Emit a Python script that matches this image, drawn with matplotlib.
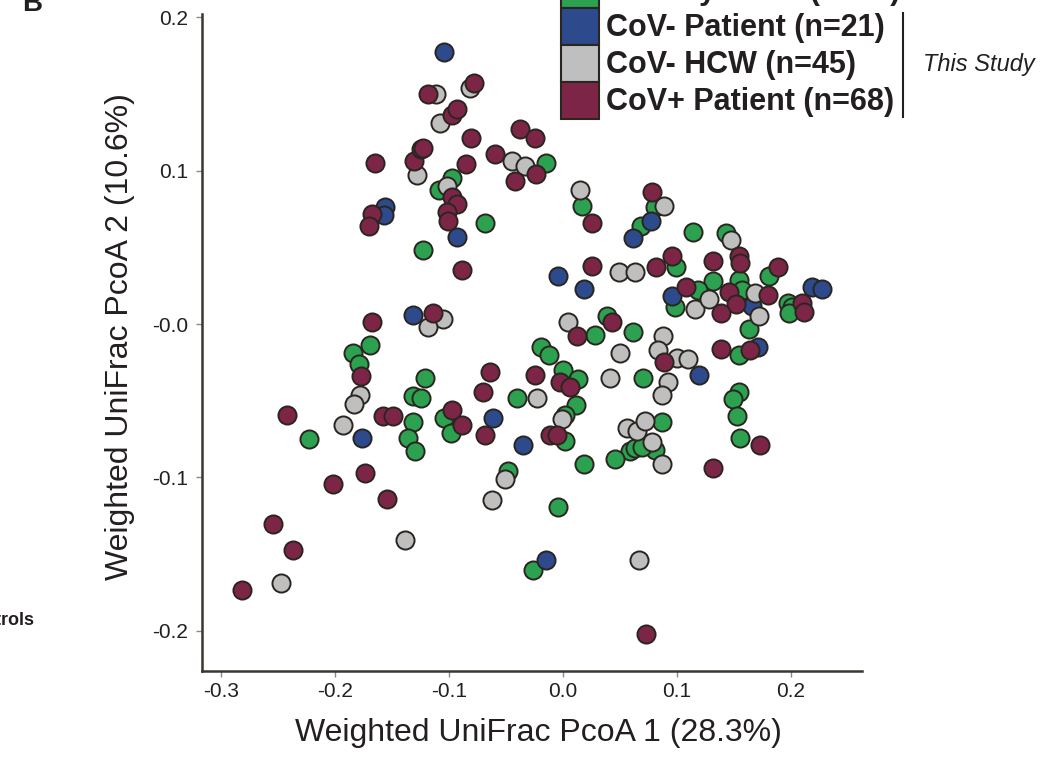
# PCoA scatter (weighted UniFrac), panel B

import matplotlib
matplotlib.use('Agg')
import matplotlib.pyplot as plt
import matplotlib.font_manager as fm
from matplotlib.patches import Rectangle
from matplotlib.lines import Line2D

# PCoA coordinates
healthy_x = [-0.097, -0.109, -0.068, -0.123, -0.015, 0.017, 0.081, 0.068, 0.114, 0.143,
             0.099, 0.132, 0.154, 0.181, 0.197, 0.201, 0.198, 0.098, 0.118, 0.157,
             0.163, 0.154, 0.154, 0.149, 0.153, 0.155, 0.039, 0.028, 0.061, 0.070,
             -0.019, -0.012, 0.000, 0.013, 0.011, -0.040, -0.184, -0.169, -0.179, -0.121,
             -0.132, -0.125, -0.223, -0.132, -0.136, -0.130, -0.104, -0.098, 0.002, 0.002,
             0.018, -0.048, -0.004, -0.026, 0.087, 0.081, 0.059, 0.063, 0.069, 0.046]
healthy_y = [0.095, 0.087, 0.066, 0.048, 0.105, 0.077, 0.076, 0.064, 0.060, 0.059,
             0.037, 0.028, 0.029, 0.031, 0.014, 0.011, 0.007, 0.011, 0.022, 0.022,
             -0.003, -0.020, -0.044, -0.049, -0.060, -0.074, 0.005, -0.007, -0.005, -0.035,
             -0.015, -0.020, -0.030, -0.036, -0.053, -0.048, -0.019, -0.014, -0.026, -0.035,
             -0.047, -0.048, -0.075, -0.064, -0.074, -0.083, -0.061, -0.071, -0.076, -0.059,
             -0.091, -0.096, -0.119, -0.160, -0.064, -0.082, -0.083, -0.081, -0.080, -0.088]

cov_neg_patient_x = [-0.104, -0.156, -0.157, -0.093, 0.061, 0.077, -0.004, 0.018, 0.096, 0.166,
                     0.171, 0.218, 0.227, 0.119, -0.132, -0.176, -0.061, -0.035, -0.015]
cov_neg_patient_y = [0.177, 0.076, 0.071, 0.057, 0.056, 0.067, 0.031, 0.023, 0.018, 0.012,
                     -0.015, 0.024, 0.023, -0.033, 0.006, -0.074, -0.061, -0.079, -0.154]

hcw_x = [-0.111, -0.082, -0.108, -0.128, -0.102, -0.045, -0.033, 0.015, 0.089, 0.147,
         0.049, 0.063, 0.116, 0.128, 0.168, 0.172, 0.004, 0.050, 0.088, 0.083,
         0.100, 0.110, 0.092, 0.087, 0.041, -0.023, -0.105, -0.118, -0.178, -0.183,
         -0.193, -0.001, -0.051, -0.062, -0.139, -0.247, 0.056, 0.065, 0.072, 0.078,
         0.087, 0.067]
hcw_y = [0.150, 0.154, 0.131, 0.097, 0.090, 0.106, 0.103, 0.087, 0.077, 0.055,
         0.034, 0.034, 0.010, 0.016, 0.020, 0.005, 0.001, -0.019, -0.008, -0.017,
         -0.022, -0.023, -0.038, -0.046, -0.035, -0.048, 0.003, -0.002, -0.046, -0.052,
         -0.066, -0.062, -0.101, -0.115, -0.141, -0.169, -0.068, -0.070, -0.063, -0.077,
         -0.091, -0.154]

cov_pos_x = [-0.118, -0.078, -0.097, -0.093, -0.081, -0.038, -0.025, -0.165, -0.131, -0.125,
             -0.123, -0.085, -0.060, -0.042, -0.024, -0.097, -0.093, -0.102, -0.101, -0.168,
             -0.170, -0.089, 0.025, 0.078, 0.025, 0.082, 0.096, 0.132, 0.154, 0.155,
             0.189, 0.210, 0.211, 0.108, 0.146, 0.152, 0.139, 0.180, 0.139, 0.164,
             0.043, 0.012, 0.089, -0.025, -0.003, 0.006, -0.114, -0.168, -0.177, -0.242,
             -0.158, -0.149, -0.097, -0.089, -0.064, -0.070, -0.068, -0.011, -0.005, -0.202,
             -0.174, -0.154, -0.254, -0.237, -0.282, 0.132, 0.173, 0.073]
cov_pos_y = [0.150, 0.157, 0.136, 0.140, 0.121, 0.127, 0.121, 0.105, 0.106, 0.114,
             0.115, 0.104, 0.111, 0.093, 0.098, 0.083, 0.078, 0.073, 0.067, 0.072,
             0.064, 0.035, 0.066, 0.086, 0.038, 0.037, 0.044, 0.041, 0.044, 0.040,
             0.037, 0.014, 0.008, 0.024, 0.021, 0.013, 0.007, 0.019, -0.016, -0.017,
             0.001, -0.008, -0.025, -0.033, -0.038, -0.041, 0.007, 0.001, -0.034, -0.059,
             -0.060, -0.060, -0.056, -0.066, -0.031, -0.044, -0.072, -0.072, -0.072, -0.104,
             -0.097, -0.114, -0.130, -0.147, -0.173, -0.094, -0.079, -0.202]

group_labels = ['Healthy Adult (n=60)', 'CoV- Patient (n=21)', 'CoV- HCW (n=45)', 'CoV+ Patient (n=68)']
group_colors = ['#2ca14f', '#2c4a8c', '#bfbfbf', '#7d2546']

x_ticks = [-0.3, -0.2, -0.1, 0.0, 0.1, 0.2]
x_tick_labels = ['-0.3', '-0.2', '-0.1', '0.0', '0.1', '0.2']
y_ticks = [-0.2, -0.1, 0.0, 0.1, 0.2]
y_tick_labels = ['-0.2', '-0.1', '-0.0', '0.1', '0.2']

INK = '#231f20'
EDGE = '#2a2520'

W, H = 1057, 776


def fx(px):
    return px / W


def fy(py):
    return 1 - py / H


# narrow face for the axis text if it is installed
names = {f.name for f in fm.fontManager.ttflist}
if 'Liberation Sans Narrow' in names:
    axis_family = ['Liberation Sans Narrow', 'DejaVu Sans']
    label_size, tick_size = 28, 17
else:
    axis_family = ['Liberation Sans', 'DejaVu Sans']
    label_size, tick_size = 23, 15
plt.rcParams['font.family'] = ['Liberation Sans', 'DejaVu Sans']

fig = plt.figure(figsize=(W / 100, H / 100), dpi=100, facecolor='white')
ax = fig.add_axes([fx(202), fy(671), (862 - 202) / W, (671 - 14) / H])

groups = [(healthy_x, healthy_y), (cov_neg_patient_x, cov_neg_patient_y),
          (hcw_x, hcw_y), (cov_pos_x, cov_pos_y)]
for (gx, gy), color in zip(groups, group_colors):
    ax.scatter(gx, gy, s=170, c=color, edgecolors=EDGE, linewidths=1.4, zorder=3)

ax.set_xlim(-0.3167, 0.2623)
ax.set_ylim(-0.2261, 0.2020)

ax.set_xticks(x_ticks)
ax.set_xticklabels(x_tick_labels, family=axis_family, fontsize=tick_size, color=INK)
ax.set_yticks(y_ticks)
ax.set_yticklabels(y_tick_labels, family=axis_family, fontsize=tick_size, color=INK)
ax.tick_params(axis='both', direction='out', length=4, width=1, color='#8a8a8a')
ax.tick_params(axis='x', pad=4)
ax.tick_params(axis='y', pad=6)

for side in ['top', 'right']:
    ax.spines[side].set_visible(False)
for side in ['left', 'bottom']:
    ax.spines[side].set_color('#3a3530')
    ax.spines[side].set_linewidth(1.8)

ax.set_xlabel('Weighted UniFrac PcoA 1 (28.3%)', family=axis_family,
              fontsize=label_size, color=INK)
ax.set_ylabel('Weighted UniFrac PcoA 2 (10.6%)', family=axis_family,
              fontsize=label_size, color=INK)
ax.xaxis.label.set_va('center')
ax.yaxis.label.set_va('center')
ax.xaxis.set_label_coords((538 - 202) / 660, (671 - 733) / 657)
ax.yaxis.set_label_coords((120 - 202) / 660, (671 - 337) / 657)

# legend, built by hand (top rows run off the canvas)
row_tops = [-29, 8, 45, 82]
for top, label, color in zip(row_tops, group_labels, group_colors):
    fig.add_artist(Rectangle((fx(561), fy(top + 37)), 38 / W, 37 / H,
                             transform=fig.transFigure, facecolor=color,
                             edgecolor=EDGE, linewidth=1.5))
    fig.text(fx(606), fy(top + 28), label, fontsize=22, fontweight='bold',
             color=INK, ha='left', va='baseline')

# bracket for this study's groups
fig.add_artist(Line2D([fx(903), fx(903)], [fy(13), fy(117)],
                      transform=fig.transFigure, color=INK, linewidth=1.5))
fig.text(fx(923), fy(65), 'This Study', fontsize=17, style='italic',
         color=INK, ha='left', va='center')

# bits of neighbouring panels
fig.text(fx(22), fy(11), 'B', fontsize=20, fontweight='bold', color=INK,
         ha='left', va='baseline')
fig.text(fx(34), fy(625), 'Controls', fontsize=13, fontweight='bold', color=INK,
         ha='right', va='baseline')

fig.savefig('out.png', dpi=100, facecolor='white')
plt.close(fig)
